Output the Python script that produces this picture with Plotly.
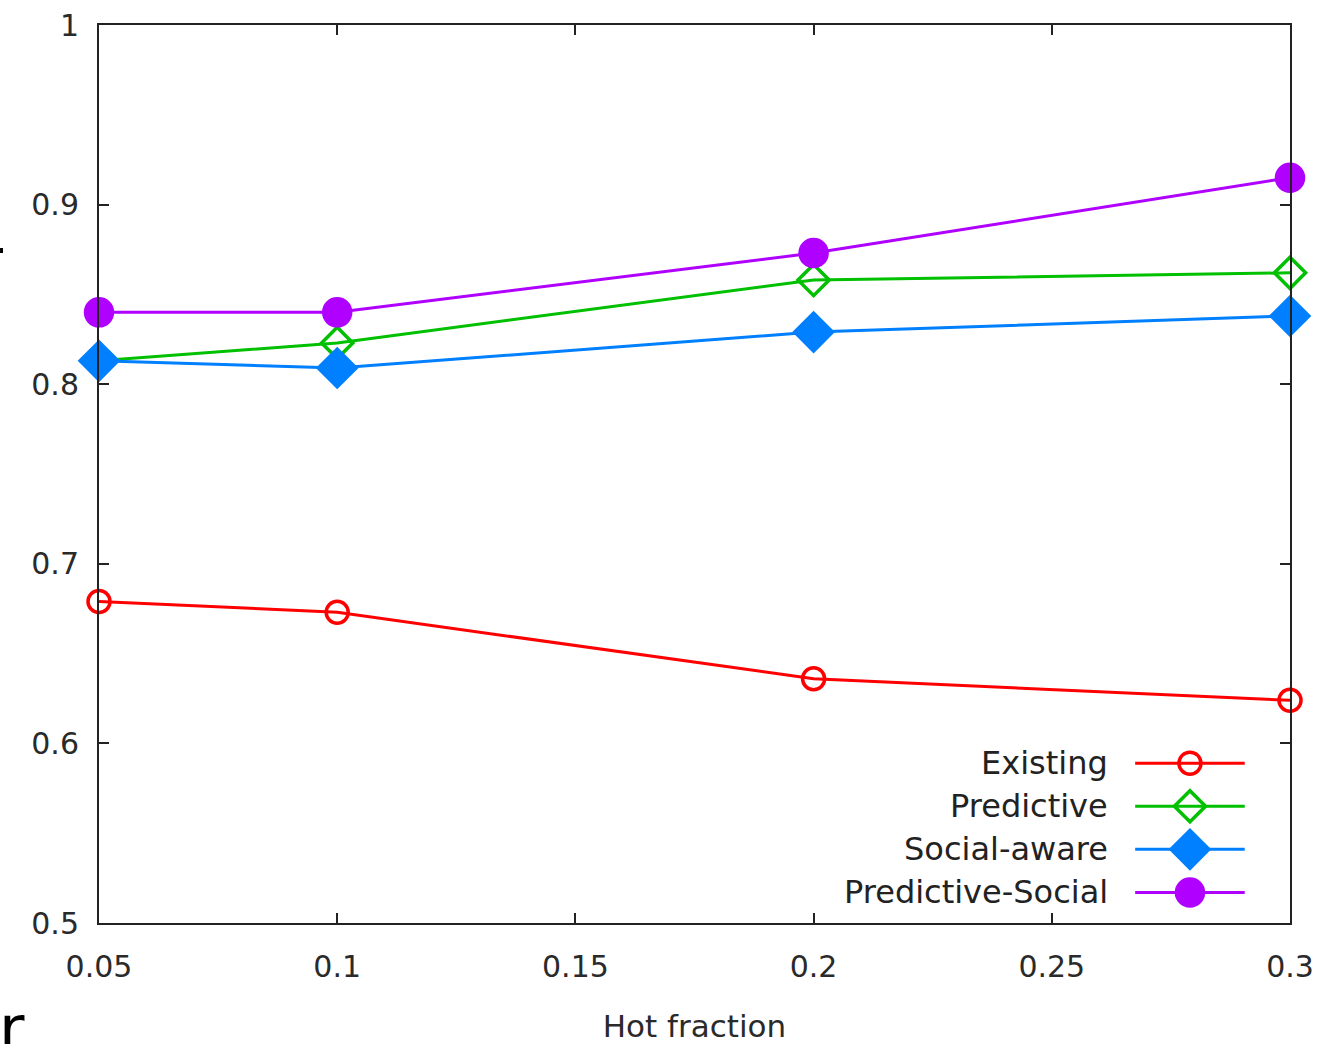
import plotly.graph_objects as go

hot_fraction = [0.05, 0.1, 0.2, 0.3]
existing = [0.679, 0.673, 0.636, 0.624]
predictive = [0.813, 0.823, 0.858, 0.862]
social_aware = [0.813, 0.809, 0.829, 0.838]
predictive_social = [0.840, 0.840, 0.873, 0.915]

series_names = ["Existing", "Predictive", "Social-aware", "Predictive-Social"]
series_values = [existing, predictive, social_aware, predictive_social]
colors = ["#ff0000", "#00c000", "#0080ff", "#b000ff"]
symbols = ["circle-open", "diamond-open", "diamond", "circle"]
sizes = [22, 24, 29, 27]

x_ticks = [0.05, 0.1, 0.15, 0.2, 0.25, 0.3]
x_ticktext = ["0.05", "0.1", "0.15", "0.2", "0.25", "0.3"]
y_ticks = [0.5, 0.6, 0.7, 0.8, 0.9, 1.0]
y_ticktext = ["0.5", "0.6", "0.7", "0.8", "0.9", "1"]

FONT = "DejaVu Sans, sans-serif"

fig = go.Figure()
for name, vals, c, s, sz in zip(series_names, series_values, colors, symbols, sizes):
    fig.add_trace(go.Scatter(
        x=hot_fraction, y=vals, mode="lines+markers", name=name,
        line=dict(color=c, width=3),
        marker=dict(symbol=s, size=sz, color=c, line=dict(color=c, width=3.5)),
        showlegend=False, cliponaxis=False,
    ))

# custom legend (text left, sample right) on a hidden overlay axis
legend_rows = [0.178, 0.130, 0.082, 0.034]
for name, c, s, sz, ry in zip(series_names, colors, symbols, sizes, legend_rows):
    fig.add_trace(go.Scatter(
        x=[0.870, 0.916, 0.962], y=[ry, ry, ry], xaxis="x2", yaxis="y2",
        mode="lines", line=dict(color=c, width=3), showlegend=False, hoverinfo="skip",
    ))
    fig.add_trace(go.Scatter(
        x=[0.916], y=[ry], xaxis="x2", yaxis="y2", mode="markers",
        marker=dict(symbol=s, size=sz, color=c, line=dict(color=c, width=3.5)),
        showlegend=False, hoverinfo="skip",
    ))
    fig.add_annotation(x=0.849, y=ry, xref="x2", yref="y2", text=name,
                       showarrow=False, xanchor="right", yanchor="middle",
                       font=dict(family=FONT, size=32, color="#222222"))

axis_common = dict(showgrid=False, zeroline=False, showline=True, linecolor="#222222",
                   linewidth=2, mirror="ticks", ticks="inside", ticklen=10,
                   tickwidth=1.5, tickcolor="#222222", automargin=False,
                   tickfont=dict(family=FONT, size=30, color="#2a2a2a"))

fig.update_layout(
    width=1321, height=1044,
    margin=dict(l=99, r=31, t=25, b=121),
    plot_bgcolor="white", paper_bgcolor="white",
    xaxis=dict(range=[0.05, 0.3], tickvals=x_ticks, ticktext=x_ticktext,
               ticklabelstandoff=16,
               title=dict(text="Hot fraction", font=dict(family=FONT, size=31, color="#2a2a2a"),
                          standoff=34),
               **axis_common),
    yaxis=dict(range=[0.5, 1.0], tickvals=y_ticks, ticktext=y_ticktext,
               ticklabelstandoff=12, **axis_common),
    xaxis2=dict(overlaying="x", range=[0, 1], visible=False),
    yaxis2=dict(overlaying="y", range=[0, 1], visible=False),
)

fig.add_annotation(x=-0.0856, y=-0.0746, xref="paper", yref="paper", text="r",
                   showarrow=False, xanchor="left", yanchor="top",
                   font=dict(family="DejaVu Sans", size=62, color="black"))
fig.add_shape(type="rect", xref="paper", yref="paper",
              x0=-0.0831, x1=-0.0806, y0=0.7461, y1=0.7517,
              fillcolor="black", line=dict(width=0))

fig.write_html("out.html", config={"displayModeBar": False},
               post_script="document.body.style.margin='0px';")
